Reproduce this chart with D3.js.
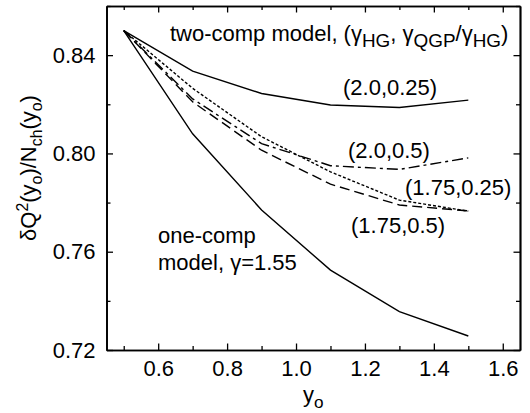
<!DOCTYPE html>
<html>
<head>
<meta charset="utf-8">
<script src="https://cdn.jsdelivr.net/npm/d3@7"></script>
<style>
  body { margin: 0; background: #fff; }
  svg { display: block; font-family: "Liberation Sans", Arial, sans-serif; }
</style>
</head>
<body>
<svg width="530" height="413"></svg>
<script>
// rapidity window y_o and normalised charge fluctuation curves
const yo = [0.5, 0.7, 0.9, 1.1, 1.3, 1.5];
const oneComp = [0.850, 0.808, 0.777, 0.7525, 0.7356, 0.7257];
const two20_025 = [0.850, 0.8335, 0.8244, 0.8197, 0.8187, 0.8217];
const two20_05 = [0.850, 0.8222, 0.8040, 0.7950, 0.7935, 0.7982];
const two175_025 = [0.850, 0.8265, 0.8068, 0.7925, 0.7810, 0.7765];
const two175_05 = [0.850, 0.8210, 0.8013, 0.7875, 0.7790, 0.7766];

const xTicks = [0.6, 0.8, 1.0, 1.2, 1.4, 1.6];
const xMinor = [0.5, 0.7, 0.9, 1.1, 1.3, 1.5];
const yTicks = [0.72, 0.76, 0.80, 0.84];
const yMinor = [0.74, 0.78, 0.82, 0.86];

const series = [
  { values: oneComp, dash: null },
  { values: two20_025, dash: null },
  { values: two20_05, dash: "11,4,3,4" },
  { values: two175_025, dash: "3,2" },
  { values: two175_05, dash: "10,5" }
];

const width = 530, height = 413;
const margin = { top: 6, right: 10, bottom: 63, left: 106.5 };

const x = d3.scaleLinear()
  .domain([0.45, 1.65])
  .range([margin.left, width - margin.right]);

const y = d3.scaleLinear()
  .domain([0.72, 0.86])
  .range([height - margin.bottom, margin.top]);

const svg = d3.select("svg");
const fs = 22;

const line = d3.line()
  .x((d, i) => x(yo[i]))
  .y(d => y(d));

svg.append("g")
  .attr("fill", "none")
  .attr("stroke", "#000")
  .attr("stroke-width", 1.4)
  .selectAll("path")
  .data(series)
  .join("path")
  .attr("stroke-dasharray", d => d.dash)
  .attr("d", d => line(d.values));

// axes: inward ticks on all four sides
const styleAxis = g => {
  g.select(".domain").attr("stroke-width", 1.7);
  g.selectAll(".tick line").attr("stroke-width", 1.3);
  g.selectAll("text").attr("font-size", fs).attr("font-family", null).attr("fill", "#000");
};

const x0 = height - margin.bottom, y0 = margin.left;

svg.append("g")
  .attr("transform", `translate(0,${x0})`)
  .call(d3.axisBottom(x).tickValues(xTicks).tickSize(-6.5).tickSizeOuter(0).tickPadding(10).tickFormat(d3.format(".1f")))
  .call(styleAxis);
svg.append("g")
  .attr("transform", `translate(0,${x0})`)
  .call(d3.axisBottom(x).tickValues(xMinor).tickSize(-4).tickSizeOuter(0).tickFormat(""))
  .call(styleAxis);
svg.append("g")
  .attr("transform", `translate(0,${margin.top})`)
  .call(d3.axisTop(x).tickValues(xTicks).tickSize(-6.5).tickSizeOuter(0).tickFormat(""))
  .call(styleAxis);
svg.append("g")
  .attr("transform", `translate(0,${margin.top})`)
  .call(d3.axisTop(x).tickValues(xMinor).tickSize(-4).tickSizeOuter(0).tickFormat(""))
  .call(styleAxis);

svg.append("g")
  .attr("transform", `translate(${y0},0)`)
  .call(d3.axisLeft(y).tickValues(yTicks).tickSize(-6.5).tickSizeOuter(0).tickPadding(11).tickFormat(d3.format(".2f")))
  .call(styleAxis);
svg.append("g")
  .attr("transform", `translate(${y0},0)`)
  .call(d3.axisLeft(y).tickValues(yMinor).tickSize(-4).tickSizeOuter(0).tickFormat(""))
  .call(styleAxis);
svg.append("g")
  .attr("transform", `translate(${width - margin.right},0)`)
  .call(d3.axisRight(y).tickValues(yTicks).tickSize(-6.5).tickSizeOuter(0).tickFormat(""))
  .call(styleAxis);
svg.append("g")
  .attr("transform", `translate(${width - margin.right},0)`)
  .call(d3.axisRight(y).tickValues(yMinor).tickSize(-4).tickSizeOuter(0).tickFormat(""))
  .call(styleAxis);

// text with sub/superscripts: parts = [text, shift] where shift: 0 normal, 1 sub, -1 sup
function richText(sel, parts, size, ratio) {
  let cur = 0;
  parts.forEach(([t, s]) => {
    const target = s === 1 ? 0.25 * size : s === -1 ? -0.38 * size : 0;
    sel.append("tspan")
      .attr("dy", target - cur)
      .attr("font-size", s ? size * ratio : size)
      .text(t);
    cur = target;
  });
}

const label = (px, py, parts, anchor, size, ratio) => {
  const t = svg.append("text")
    .attr("x", px).attr("y", py)
    .attr("text-anchor", anchor || "start")
    .attr("fill", "#000");
  richText(t, parts, size || fs, ratio || 0.78);
  return t;
};

label(170, 41, [["two-comp model, (γ", 0], ["HG", 1], [", γ", 0], ["QGP", 1], ["/γ", 0], ["HG", 1], [")", 0]], "start", 22, 0.86);
label(343, 95, [["(2.0,0.25)", 0]]);
label(348, 158, [["(2.0,0.5)", 0]]);
label(405, 195, [["(1.75,0.25)", 0]]);
label(351, 233, [["(1.75,0.5)", 0]]);
label(158, 243, [["one-comp", 0]]);
label(158, 270, [["model, γ=1.55", 0]]);

// axis titles
label(x(1.05), 402, [["y", 0], ["o", 1]], "middle");
label(0, 0, [["δQ", 0], ["2", -1], ["(y", 0], ["o", 1], [")/N", 0], ["ch", 1], ["(y", 0], ["o", 1], [")", 0]], "middle", 22, 0.72)
  .attr("transform", `translate(36,168) rotate(-90)`);
</script>
</body>
</html>
